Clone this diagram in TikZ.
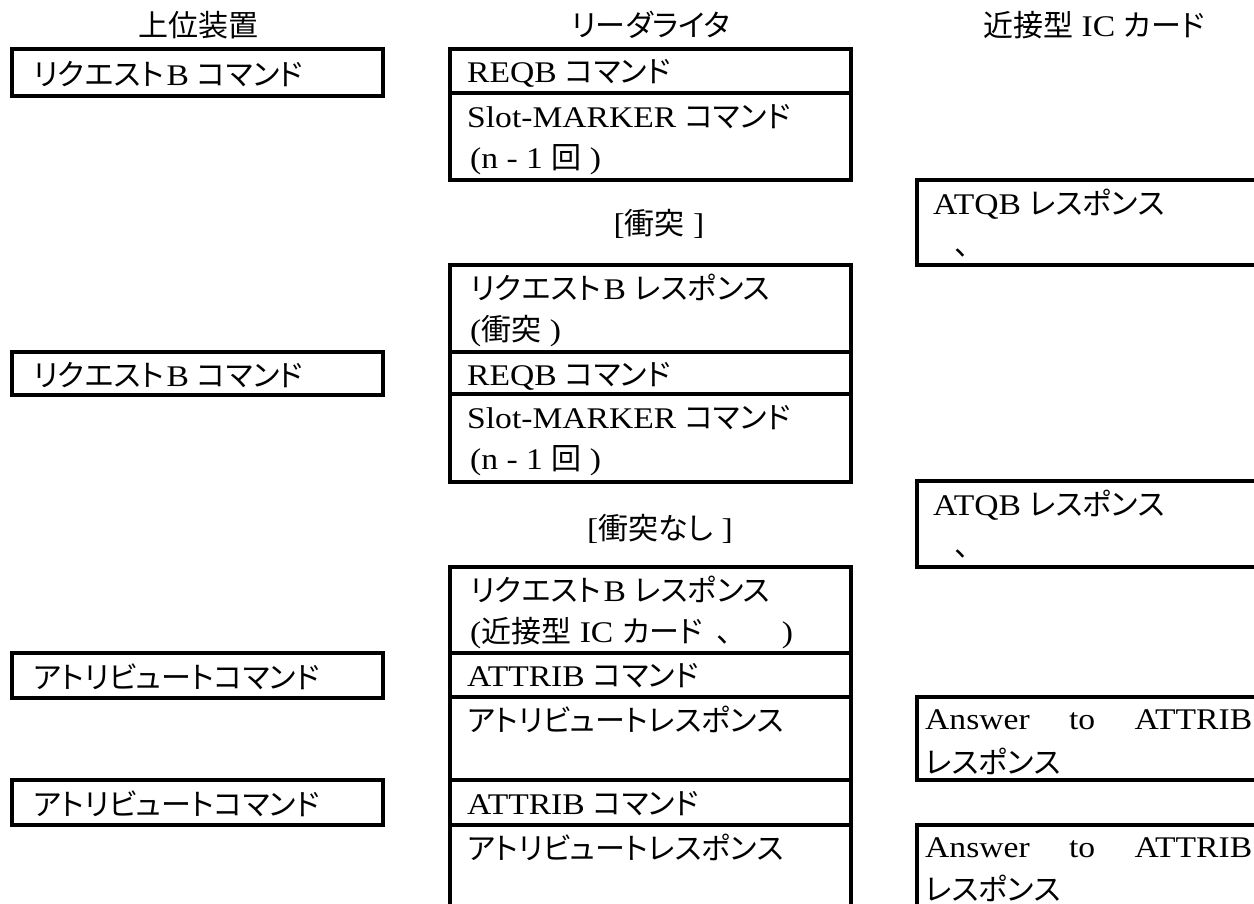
\documentclass[tikz,border=0pt]{standalone}
\usepackage{fontspec}
\setmainfont{Liberation Serif}[FakeStretch=1.12]
\newfontfamily\jp{Noto Sans CJK JP}[Scale=1.0,RawFeature=+palt]
\newcommand{\reqb}{{\jp リクエスト}\kern3pt B}
\begin{document}
\begin{tikzpicture}[x=1pt,y=-1pt,
  box/.style={draw, line width=3.5pt, inner sep=0pt, outer sep=0pt, anchor=north west, rectangle},
  tx/.style={anchor=base west, inner sep=0pt, text height=24pt, text depth=6pt, font=\fontsize{30}{41}\selectfont},
  hd/.style={anchor=base, inner sep=0pt, text height=24pt, text depth=6pt, font=\fontsize{30}{41}\selectfont}]
\useasboundingbox (0,0) rectangle (1254,903);
\clip (0,0) rectangle (1254,903);
% headers
\node[hd] (h1) at (198,36) {\jp 上位装置};
\node[hd] (h2) at (651,36) {\jp リーダライタ};
\node[hd] (h3) at (1094,36) {{\jp 近接型} IC {\jp カード}};
% left column boxes
\node[box, minimum width=371pt, minimum height=47pt] (l1) at (12,49) {};
\node[box, minimum width=371pt, minimum height=43pt] (l2) at (12,352) {};
\node[box, minimum width=371pt, minimum height=45pt] (l3) at (12,653) {};
\node[box, minimum width=371pt, minimum height=45pt] (l4) at (12,780) {};
\node[tx] (tl1) at (33,85) {\reqb\ {\jp コマンド}};
\node[tx] (tl2) at (33,386) {\reqb\ {\jp コマンド}};
\node[tx] (tl3) at (33,688) {\jp アトリビュートコマンド};
\node[tx] (tl4) at (33,815) {\jp アトリビュートコマンド};
% reader/writer column boxes
\node[box, minimum width=401pt, minimum height=44pt] (r1) at (450,49) {};
\node[box, minimum width=401pt, minimum height=87pt] (r2) at (450,93) {};
\node[box, minimum width=401pt, minimum height=87pt] (r3) at (450,265) {};
\node[box, minimum width=401pt, minimum height=42pt] (r4) at (450,352) {};
\node[box, minimum width=401pt, minimum height=88pt] (r5) at (450,394) {};
\node[box, minimum width=401pt, minimum height=86pt] (r6) at (450,567) {};
\node[box, minimum width=401pt, minimum height=44pt] (r7) at (450,653) {};
\node[box, minimum width=401pt, minimum height=83pt] (r8) at (450,697) {};
\node[box, minimum width=401pt, minimum height=45pt] (r9) at (450,780) {};
\node[box, minimum width=401pt, minimum height=90pt] (r10) at (450,825) {};
\node[tx] (tr1) at (467,82) {REQB {\jp コマンド}};
\node[tx] (tr2a) at (467,127) {Slot-MARKER {\jp コマンド}};
\node[tx] (tr2b) at (470,168) {(n - 1 {\jp 回} )};
\node[hd] (k1) at (659,234) {[{\jp 衝突} ]};
\node[tx] (tr3a) at (470,299) {\reqb\ {\jp レスポンス}};
\node[tx] (tr3b) at (470,340) {({\jp 衝突} )};
\node[tx] (tr4) at (467,385) {REQB {\jp コマンド}};
\node[tx] (tr5a) at (467,428) {Slot-MARKER {\jp コマンド}};
\node[tx] (tr5b) at (470,469) {(n - 1 {\jp 回} )};
\node[hd] (k2) at (660,539) {[{\jp 衝突なし} ]};
\node[tx] (tr6a) at (470,601) {\reqb\ {\jp レスポンス}};
\node[tx] (tr6b) at (470,642) {({\jp 近接型} IC {\jp カード}\hspace{14pt}{\jp 、}\hspace{50pt})};
\node[tx] (tr7) at (467,686) {ATTRIB {\jp コマンド}};
\node[tx] (tr8) at (467,731) {\jp アトリビュートレスポンス};
\node[tx] (tr9) at (467,814) {ATTRIB {\jp コマンド}};
\node[tx] (tr10) at (467,859) {\jp アトリビュートレスポンス};
% card column boxes
\node[box, minimum width=345pt, minimum height=85pt] (c1) at (917,180) {};
\node[box, minimum width=345pt, minimum height=86pt] (c2) at (917,481) {};
\node[box, minimum width=345pt, minimum height=83pt] (c3) at (917,697) {};
\node[box, minimum width=345pt, minimum height=90pt] (c4) at (917,825) {};
\node[tx] (tc1a) at (933,214) {ATQB {\jp レスポンス}};
\node[tx] (tc1b) at (933,255) {\hspace{22pt}{\jp 、}};
\node[tx] (tc2a) at (933,515) {ATQB {\jp レスポンス}};
\node[tx] (tc2b) at (933,556) {\hspace{22pt}{\jp 、}};
\node[tx] (tc3a) at (925,729) {\makebox[327pt][s]{Answer\hfill to\hfill ATTRIB}};
\node[tx] (tc3b) at (925,773) {\jp レスポンス};
\node[tx] (tc4a) at (925,857) {\makebox[327pt][s]{Answer\hfill to\hfill ATTRIB}};
\node[tx] (tc4b) at (925,900) {\jp レスポンス};
\end{tikzpicture}
\end{document}
